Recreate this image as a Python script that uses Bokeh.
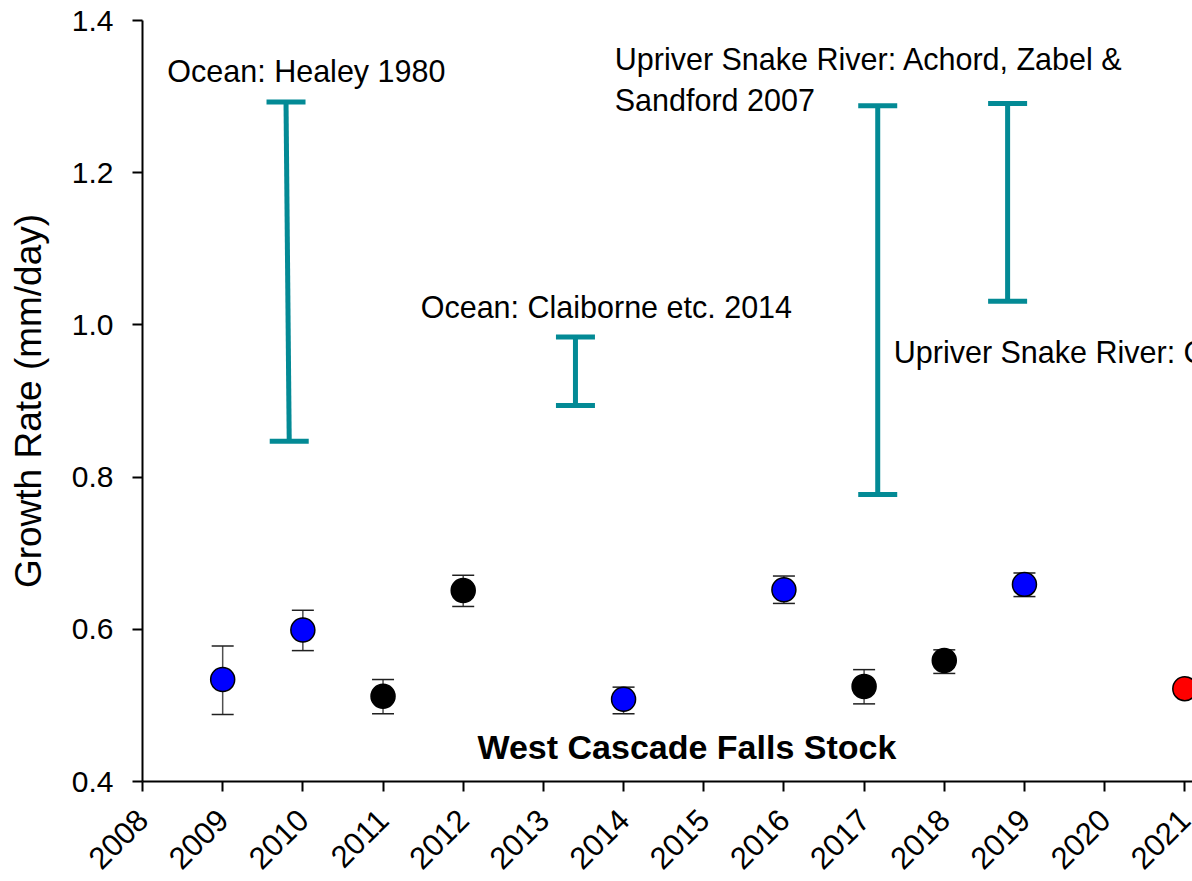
from bokeh.plotting import figure
from bokeh.models import ColumnDataSource, Whisker, TeeHead, FixedTicker, NumeralTickFormatter, Range1d
from bokeh.core.properties import value
from bokeh.embed import file_html
from bokeh.resources import INLINE
import math

# ---- data ----
years = [2009, 2010, 2011, 2012, 2014, 2016, 2017, 2018, 2019, 2021]
growth = [0.534, 0.599, 0.512, 0.651, 0.508, 0.652, 0.525, 0.559, 0.659, 0.522]
colors = ["#0000FF", "#0000FF", "#000000", "#000000", "#0000FF", "#0000FF",
          "#000000", "#000000", "#0000FF", "#FF0000"]
err_years = [2009, 2010, 2011, 2012, 2014, 2016, 2017, 2018, 2019]
err_upper = [0.578, 0.625, 0.534, 0.671, 0.524, 0.670, 0.547, 0.573, 0.674]
err_lower = [0.488, 0.572, 0.489, 0.630, 0.489, 0.634, 0.502, 0.542, 0.643]

range_x_top = [2009.79, 2013.40, 2017.17, 2018.79]
range_x_bottom = [2009.83, 2013.40, 2017.17, 2018.79]
range_hi = [1.293, 0.984, 1.288, 1.291]
range_lo = [0.847, 0.894, 0.777, 1.031]

ann_text = ["Ocean: Healey 1980", "Ocean: Claiborne etc. 2014",
            "Upriver Snake River: Achord, Zabel &", "Sandford 2007",
            "Upriver Snake River: C"]
ann_x = [2008.31, 2011.47, 2013.89, 2013.89, 2017.37]
ann_y = [1.333, 1.024, 1.350, 1.2955, 0.964]

title_text = ["West Cascade Falls Stock"]
title_x = [2014.79]
title_y = [0.445]

x_ticks = list(range(2008, 2022))
y_ticks = [0.4, 0.6, 0.8, 1.0, 1.2, 1.4]

TEAL = "#038A95"
SANS = "Liberation Sans"

p = figure(width=1192, height=881, output_backend="svg", toolbar_location=None,
           x_range=Range1d(2008, 2021.096), y_range=Range1d(0.4, 1.4),
           min_border_left=142, min_border_right=0, min_border_top=20, min_border_bottom=100)
p.outline_line_color = None
p.xgrid.visible = False
p.ygrid.visible = False
p.background_fill_color = "white"
p.border_fill_color = "white"

for ax in (p.xaxis[0], p.yaxis[0]):
    ax.axis_line_width = 2
    ax.axis_line_color = "black"
    ax.major_tick_line_width = 2
    ax.major_tick_line_color = "black"
    ax.major_tick_in = 0
    ax.major_tick_out = 10
    ax.minor_tick_line_color = None
    ax.major_label_text_font = SANS
    ax.major_label_text_font_size = "30px"
    ax.major_label_text_color = "black"

p.xaxis.ticker = FixedTicker(ticks=x_ticks)
p.xaxis.formatter = NumeralTickFormatter(format="0")
p.xaxis.major_label_orientation = math.pi / 4
p.xaxis.major_label_text_font_size = "31px"
p.xaxis.major_label_standoff = 23

p.yaxis.ticker = FixedTicker(ticks=y_ticks)
p.yaxis.formatter = NumeralTickFormatter(format="0.0")
p.yaxis.major_label_standoff = 19
p.yaxis.axis_label = "Growth Rate (mm/day)"
p.yaxis.axis_label_text_font = SANS
p.yaxis.axis_label_text_font_size = "37px"
p.yaxis.axis_label_text_font_style = "normal"
p.yaxis.axis_label_text_color = "black"
p.yaxis.axis_label_standoff = 20

# reference ranges (teal)
rsrc = ColumnDataSource(dict(xt=range_x_top, xb=range_x_bottom, hi=range_hi, lo=range_lo))
p.segment(x0="xt", y0="hi", x1="xb", y1="lo", source=rsrc, line_color=TEAL, line_width=5)
p.scatter(x="xt", y="hi", source=rsrc, marker="dash", size=39, line_color=TEAL, line_width=5)
p.scatter(x="xb", y="lo", source=rsrc, marker="dash", size=39, line_color=TEAL, line_width=5)

# error bars
esrc = ColumnDataSource(dict(x=err_years, up=err_upper, lo=err_lower))
w = Whisker(base="x", upper="up", lower="lo", source=esrc, dimension="height",
            line_color="#505050", line_width=1.5,
            upper_head=TeeHead(size=22, line_color="#202020", line_width=1.5),
            lower_head=TeeHead(size=22, line_color="#202020", line_width=1.5))
p.add_layout(w)

# points
psrc = ColumnDataSource(dict(x=years, y=growth, c=colors))
p.scatter(x="x", y="y", source=psrc, size=24, fill_color="c", line_color="black", line_width=1.5)

# annotations
asrc = ColumnDataSource(dict(x=ann_x, y=ann_y, t=ann_text))
p.text(x="x", y="y", text="t", source=asrc, text_font=value(SANS), text_font_size="30.5px",
       text_align="left", text_baseline="middle", text_color="black")

tsrc = ColumnDataSource(dict(x=title_x, y=title_y, t=title_text))
p.text(x="x", y="y", text="t", source=tsrc, text_font=value(SANS), text_font_size="34px",
       text_font_style="bold", text_align="center", text_baseline="middle", text_color="black")

open("out.html", "w").write(file_html(p, INLINE))
